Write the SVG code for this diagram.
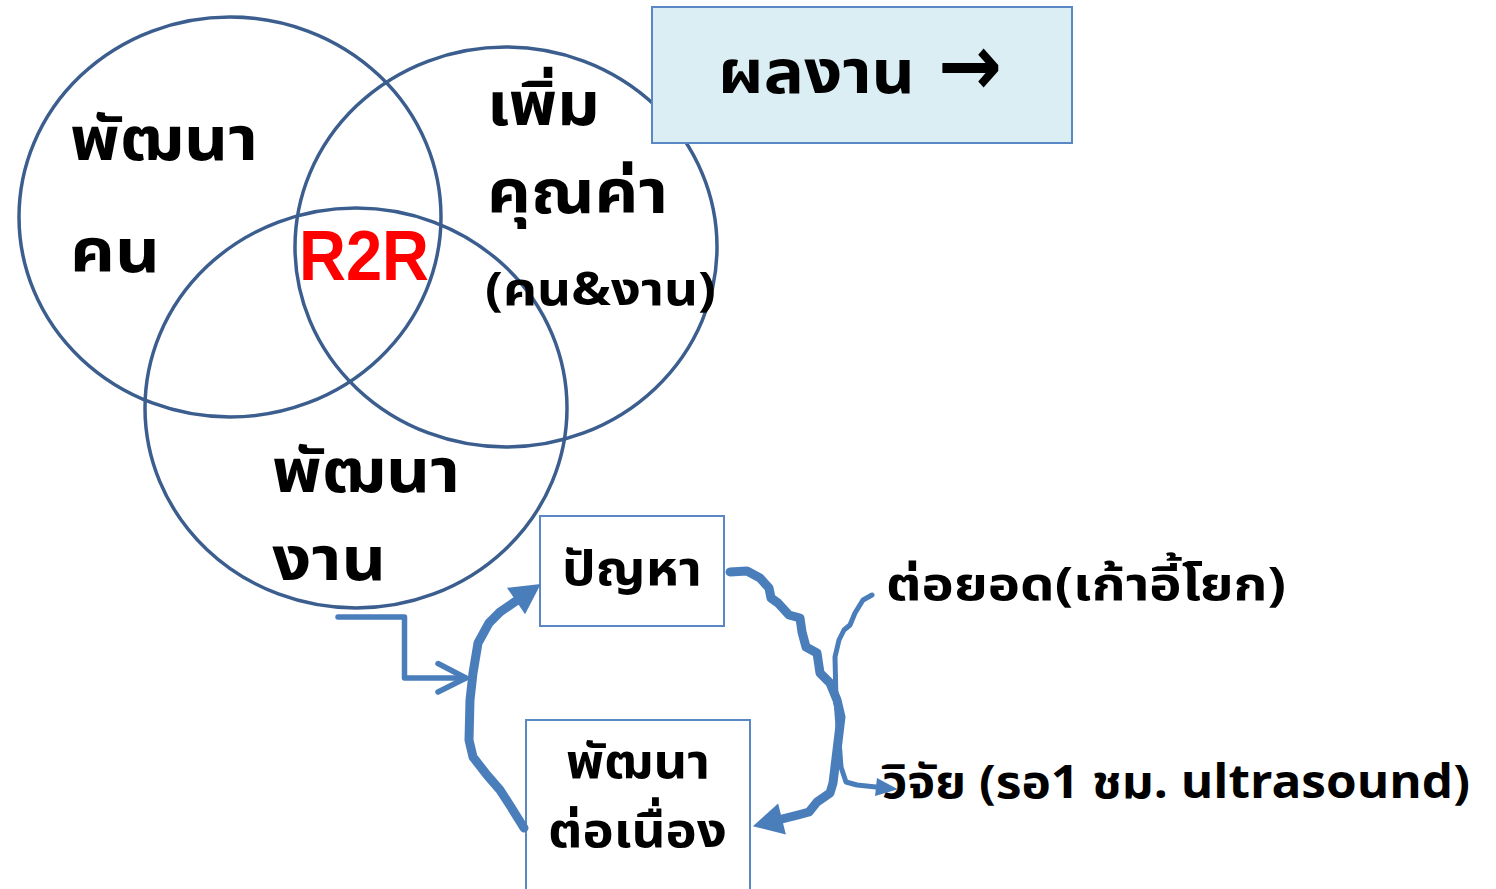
<svg xmlns="http://www.w3.org/2000/svg" width="1496" height="889" viewBox="0 0 1496 889">
<defs>
<style>
.c{fill:none;stroke:#3b5e8f;stroke-width:3.5}
.t{font-family:"Noto Sans Thai","Noto Sans","DejaVu Sans",sans-serif;font-weight:bold;fill:#000}
.box{fill:#fff;stroke:#5a88c4;stroke-width:2}
.ln{fill:none;stroke:#4a7ebb;stroke-linecap:round;stroke-linejoin:round}
</style>
<marker id="big" viewBox="0 -16 30 32" refX="0" refY="0" markerWidth="30" markerHeight="32" orient="auto" markerUnits="userSpaceOnUse" overflow="visible"><path d="M0,-16L30,0L0,16z" fill="#4a7ebb"/></marker>
<marker id="small" viewBox="0 -9 22 18" refX="0" refY="0" markerWidth="22" markerHeight="18" orient="auto" markerUnits="userSpaceOnUse" overflow="visible"><path d="M0,-9L22,0L0,9z" fill="#4a7ebb"/></marker>
</defs>
<g id="circles">
<ellipse class="c" cx="230" cy="217" rx="211" ry="200"/>
<ellipse class="c" cx="506" cy="247" rx="211" ry="200"/>
<ellipse class="c" cx="356" cy="408" rx="211" ry="200"/>
</g>
<g id="labels">
<text class="t" x="70" y="160" font-size="60" textLength="188" lengthAdjust="spacingAndGlyphs">พัฒนา</text>
<text class="t" x="70" y="272" font-size="60" textLength="90" lengthAdjust="spacingAndGlyphs">คน</text>
<text x="299" y="280" font-size="70" font-family="Liberation Sans,Arial,sans-serif" font-weight="bold" fill="#ff0000" textLength="130" lengthAdjust="spacingAndGlyphs">R2R</text>
<text class="t" x="487" y="125" font-size="60" textLength="113" lengthAdjust="spacingAndGlyphs">เพิ่ม</text>
<text class="t" x="487" y="213" font-size="60" textLength="181" lengthAdjust="spacingAndGlyphs">คุณค่า</text>
<text class="t" x="485" y="305" font-size="46" textLength="231" lengthAdjust="spacingAndGlyphs">(คน&amp;งาน)</text>
<text class="t" x="272" y="492" font-size="60" textLength="188" lengthAdjust="spacingAndGlyphs">พัฒนา</text>
<text class="t" x="272" y="580" font-size="60" textLength="114" lengthAdjust="spacingAndGlyphs">งาน</text>
</g>
<g id="node-result">
<rect x="652" y="7" width="420" height="136" fill="#dbeef4" stroke="#5a88c4" stroke-width="2"/>
<text class="t" x="718" y="93" font-size="60"><tspan textLength="197" lengthAdjust="spacingAndGlyphs">ผลงาน</tspan><tspan x="938" y="95" font-family="DejaVu Sans,sans-serif" font-size="86" textLength="64" lengthAdjust="spacingAndGlyphs">→</tspan></text>
</g>
<g id="node-problem">
<rect class="box" x="540" y="516" width="184" height="110"/>
<text class="t" x="562" y="585" font-size="48" textLength="140" lengthAdjust="spacingAndGlyphs">ปัญหา</text>
</g>
<g id="node-continue">
<rect class="box" x="526" y="720" width="224" height="180"/>
<text class="t" x="566" y="778" font-size="48" textLength="144" lengthAdjust="spacingAndGlyphs">พัฒนา</text>
<text class="t" x="548" y="847" font-size="48" textLength="179" lengthAdjust="spacingAndGlyphs">ต่อเนื่อง</text>
</g>
<g id="node-extend"><text class="t" x="886" y="600" font-size="46" textLength="400" lengthAdjust="spacingAndGlyphs">ต่อยอด(เก้าอี้โยก)</text></g>
<g id="node-research"><text class="t" x="882" y="798" font-size="46" textLength="588" lengthAdjust="spacingAndGlyphs">วิจัย (รอ1 ชม. ultrasound)</text></g>
<g id="connectors">
<path class="ln" stroke-width="5.5" d="M338,617H404.5V678H465"/>
<path class="ln" stroke-width="5.5" d="M438,663.5L466,678L438,692"/>
<path class="ln" stroke-width="9" marker-end="url(#big)" d="M524,828L511,807L500,790L487,775L473,757L469,740L470,700L473,673L478,643L489,623L500,612L516,601"/>
<path class="ln" stroke-width="9" marker-end="url(#big)" d="M730,572L747,571L760,578L769,588L771,598L778,603L789,615L800,618L802,632L806,647L817,653L820,673L830,683L837,700L841,717L837,750L833,783L830,793L817,802L809,812L798,815L782,819"/>
<path class="ln" stroke-width="5" marker-end="url(#small)" d="M872,595L863,600L855,613L850,625L844,630L839,640L835,657L836,700L839,740L841,767L846,782L857,785L876,787"/>
</g>
</svg>
